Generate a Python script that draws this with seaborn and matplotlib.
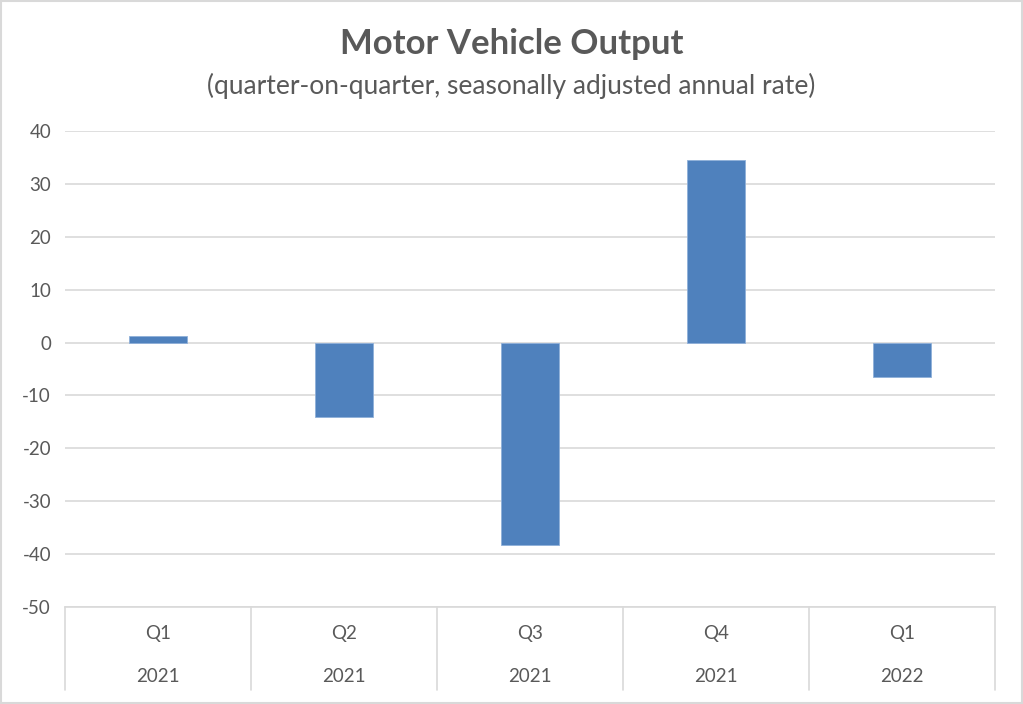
import matplotlib
matplotlib.use('Agg')
import matplotlib.pyplot as plt
import matplotlib.transforms as mtransforms
import seaborn as sns
import pandas as pd

quarters = ['Q1', 'Q2', 'Q3', 'Q4', 'Q1']
years = ['2021', '2021', '2021', '2021', '2022']
output = [1.2, -14.0, -38.3, 34.5, -6.5]
yticks = list(range(-50, 41, 10))

df = pd.DataFrame({'period': [f'{q} {y}' for q, y in zip(quarters, years)],
                   'value': output})

sns.set_theme(style='white')
plt.rcParams['font.family'] = ['Lato', 'DejaVu Sans']
text_col = '#595959'
grid_col = '#d9d9d9'

fig = plt.figure(figsize=(10.23, 7.04), dpi=100)
ax = fig.add_axes([65 / 1023, 1 - 607 / 704, 930 / 1023, 476 / 704])

sns.barplot(data=df, x='period', y='value', color='#4f81bd', width=0.31,
            edgecolor='#8fb0d9', linewidth=0.6, saturation=1, ax=ax)

ax.set_ylim(-50, 40)
ax.set_xlim(-0.5, len(df) - 0.5)
ax.set_yticks(yticks)
ax.set_yticklabels([str(t) for t in yticks], color=text_col, fontsize=13.5)
ax.tick_params(axis='y', length=0, pad=10)
ax.yaxis.grid(True, color=grid_col, linewidth=1.2)
ax.set_axisbelow(True)
for s in ['top', 'right', 'left']:
    ax.spines[s].set_visible(False)
ax.spines['bottom'].set_color(grid_col)
ax.spines['bottom'].set_linewidth(1.2)
ax.set_xticks([])
ax.set_xlabel('')
ax.set_ylabel('')

# multi-level category axis
trans = mtransforms.blended_transform_factory(ax.transData, ax.transAxes)
for i, (q, y) in enumerate(zip(quarters, years)):
    ax.text(i, -27 / 476, q, transform=trans, ha='center', va='center',
            color=text_col, fontsize=13.5)
    ax.text(i, -70 / 476, y, transform=trans, ha='center', va='center',
            color=text_col, fontsize=13.5)
for b in range(len(df) + 1):
    ax.plot([b - 0.5, b - 0.5], [0, -83 / 476], transform=trans,
            color=grid_col, linewidth=1.2, clip_on=False)

fig.text(0.5, 1 - 44 / 704, 'Motor Vehicle Output', ha='center', va='center',
         fontsize=25, fontweight='bold', color=text_col)
fig.text(0.5, 1 - 86 / 704, '(quarter-on-quarter, seasonally adjusted annual rate)',
         ha='center', va='center', fontsize=19, color=text_col)

# outer chart border
fig.patches.append(plt.Rectangle((0.001, 0.001), 0.998, 0.998, transform=fig.transFigure,
                                 fill=False, edgecolor=grid_col, linewidth=1.5))

fig.savefig('out.png', dpi=100, facecolor='white')
